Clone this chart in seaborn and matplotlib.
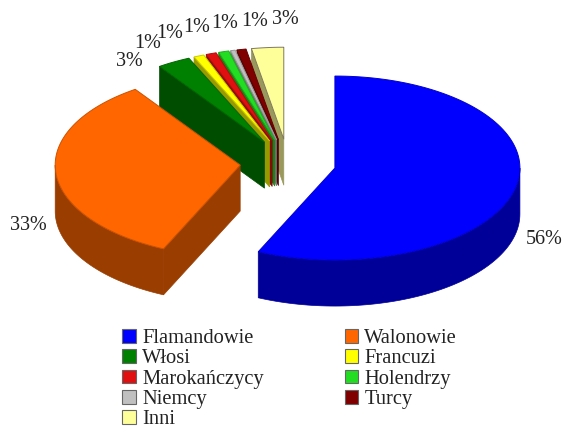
import numpy as np
import matplotlib
matplotlib.use("Agg")
import matplotlib.pyplot as plt
from matplotlib.patches import Patch
import seaborn as sns

# --- data ---
categories = ["Flamandowie", "Walonowie", "Włosi", "Francuzi", "Marokańczycy",
              "Holendrzy", "Niemcy", "Turcy", "Inni"]
shares = [56.8, 33.6, 2.9, 0.9, 0.9, 0.9, 0.4, 0.8, 2.8]
value_labels = ["56%", "33%", "3%", "1%", "1%", "1%", "1%", "1%", "3%"]
colors = ["#0000FF", "#FF6600", "#008000", "#FFFF00", "#E01010",
          "#22DD22", "#C0C0C0", "#800000", "#FFFF99"]

# --- layout (pixels of the 565x429 canvas) ---
CX, CY, RX, RY, DEPTH, EXPLODE = 288, 163, 185, 92, 46, 48
label_xy = [(544, 240), (28, 226), (129, 61), (148, 43), (170, 33),
            (197, 27), (225, 23), (255, 22), (285, 19)]
legend_order = [0, 2, 4, 6, 8, 1, 3, 5, 7]

sns.set_theme(style="white")
plt.rcParams["font.family"] = ["Liberation Serif", "DejaVu Sans"]
palette = sns.color_palette(colors)

fig = plt.figure(figsize=(5.65, 4.29), dpi=100)
ax = fig.add_axes([0, 0, 1, 1])
ax.set_xlim(0, 565)
ax.set_ylim(429, 0)
ax.axis("off")

values = np.asarray(shares, dtype=float)
edges = np.concatenate([[0], np.cumsum(values)]) * 360 / values.sum()


def rim(cx, cy, deg):
    rad = np.radians(deg)
    return cx + RX * np.sin(rad), cy - RY * np.cos(rad)


def shade(c, f=0.6):
    return tuple(v * f for v in c)


def wall(cx, cy, deg, color, z):
    x, y = rim(cx, cy, deg)
    ax.fill([cx, x, x, cx], [cy, y, y + DEPTH, cy + DEPTH],
            facecolor=shade(color), edgecolor=shade(color), lw=0.5, zorder=z)


# painter's order: small back slices from right to left, then the big ones
order = [8, 7, 6, 5, 4, 3, 2, 1, 0]
for z, i in enumerate(order):
    a0, a1 = edges[i], edges[i + 1]
    mid = np.radians((a0 + a1) / 2)
    cx = CX + EXPLODE * np.sin(mid)
    cy = CY - EXPLODE * RY / RX * np.cos(mid)
    col = palette[i]
    zb = z * 3
    if a0 > 180:
        wall(cx, cy, a0, col, zb)
    if a1 < 180:
        wall(cx, cy, a1, col, zb)
    lo, hi = max(a0, 90), min(a1, 270)
    if hi > lo:
        t = np.linspace(lo, hi, 80)
        xs, ys = rim(cx, cy, t)
        ax.fill(np.r_[xs, xs[::-1]], np.r_[ys, ys[::-1] + DEPTH],
                facecolor=shade(col), edgecolor=shade(col), lw=0.5, zorder=zb + 1)
    t = np.linspace(a0, a1, 120)
    xs, ys = rim(cx, cy, t)
    edge = "#807860" if i == 8 else shade(col, 0.8)
    ax.fill(np.r_[cx, xs], np.r_[cy, ys], facecolor=col, edgecolor=edge,
            lw=0.7, zorder=zb + 2)

for txt, (x, y) in zip(value_labels, label_xy):
    ax.text(x, y, txt, ha="center", va="center", fontsize=14.5,
            color="#222222", zorder=50)

handles = [Patch(facecolor=palette[i], edgecolor="#666666", lw=0.8) for i in legend_order]
names = [categories[i] for i in legend_order]
ax.legend(handles, names, ncol=2, loc="upper left",
          bbox_to_anchor=(106 / 565, 1 - 312.5 / 429), frameon=False,
          fontsize=14.8, labelcolor="#222222", handlelength=0.65, handleheight=0.65,
          handletextpad=0.3, labelspacing=0.06, columnspacing=3.95, borderpad=0.3)

fig.savefig("out.png", dpi=100, facecolor="white")
